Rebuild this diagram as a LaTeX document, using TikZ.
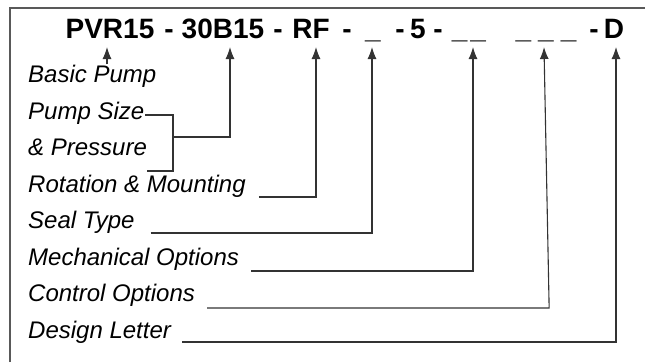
\documentclass[tikz,border=0pt]{standalone}
\usepackage{fontspec}
\setmainfont{Liberation Sans}
\usetikzlibrary{positioning,calc,arrows.meta}

\begin{document}
\begin{tikzpicture}[x=1pt,y=-1pt,
    part/.style={font=\fontsize{28}{32}\selectfont\bfseries, inner sep=0pt, anchor=base},
    lbl/.style={font=\fontsize{24}{28}\selectfont\itshape, inner sep=0pt, anchor=base west},
    lead/.style={line width=1.1pt, black!80},
    arr/.style={lead, -{Latex[length=12pt,width=9pt]}}]
    \useasboundingbox (0,0) rectangle (645,362);
    % frame
    \draw [line width=2pt, black!65] (9.5,362) -- (9.5,8) -- (645,8);
    % model code
    \node [part] (pvr) at (110,38) {PVR15};
    \node [part] (d1) at (169,38) {-};
    \node [part] (sz) at (223,38) {30B15};
    \node [part] (d2) at (278,38) {-};
    \node [part] (rf) at (311,38) {RF};
    \node [part] (d3) at (347,38) {-};
    \node [part] (sl) at (373,38) {\_};
    \node [part] (d4) at (400,38) {-};
    \node [part] (five) at (418,38) {5};
    \node [part] (d5) at (438,38) {-};
    \node [part] (mc) at (469,38) {\_\hspace{3pt}\_};
    \node [part] (co) at (546,38) {\_\hspace{7pt}\_\hspace{7pt}\_};
    \node [part] (d6) at (594,38) {-};
    \node [part] (dl) at (614,38) {D};
    % labels
    \node [lbl] (basic) at (28,82) {Basic Pump};
    \node [lbl] (psize) at (28,119) {Pump Size};
    \node [lbl] (press) at (28,155) {\& Pressure};
    \node [lbl] (rot) at (28,192) {Rotation \& Mounting};
    \node [lbl] (sealt) at (28,228) {Seal Type};
    \node [lbl] (mechop) at (28,265) {Mechanical Options};
    \node [lbl] (ctrlop) at (28,301) {Control Options};
    \node [lbl] (dsgn) at (28,338) {Design Letter};
    % leaders
    \draw [arr] ($(pvr.base |- basic.north)+(-3,0)$) -- ([xshift=-3pt,yshift=-9pt]pvr.base);
    \coordinate (brk) at (173,137);
    \draw [lead] ([xshift=1pt,yshift=4pt]psize.base east) -| ([yshift=-34pt]brk) -- ++(-26,0);
    \draw [arr] (brk) -| ([xshift=7pt,yshift=-9pt]sz.base);
    \draw [arr] ([xshift=13pt,yshift=-5pt]rot.base east) -| ([xshift=5pt,yshift=-9pt]rf.base);
    \draw [arr] ([xshift=16pt,yshift=-5pt]sealt.base east) -| ([xshift=-1pt,yshift=-9pt]sl.base);
    \draw [arr] ([xshift=12pt,yshift=-6pt]mechop.base east) -| ([xshift=4pt,yshift=-9pt]mc.base);
    \draw [arr] ([xshift=12pt,yshift=-7pt]ctrlop.base east) -- ++(342,0) -- ([xshift=-2pt,yshift=-9pt]co.base);
    \draw [arr] ([xshift=11pt,yshift=-4pt]dsgn.base east) -| ([xshift=2pt,yshift=-9pt]dl.base);
\end{tikzpicture}
\end{document}
